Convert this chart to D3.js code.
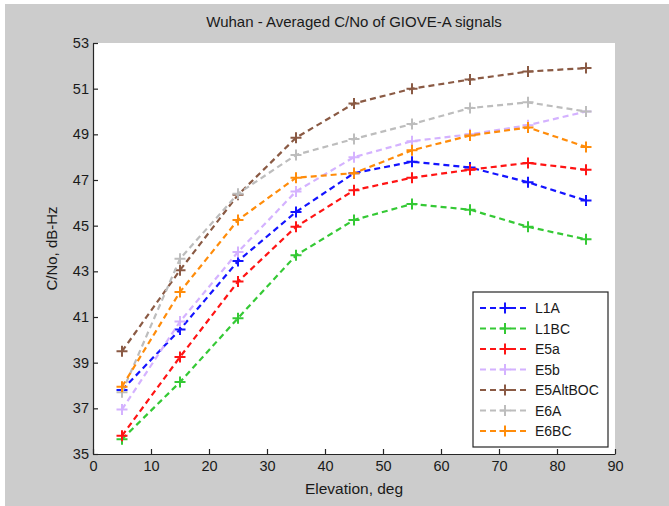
<!DOCTYPE html>
<html>
<head>
<meta charset="utf-8">
<script src="https://cdn.jsdelivr.net/npm/d3@7"></script>
<style>
  html, body { margin: 0; padding: 0; background: #ffffff; }
  svg { display: block; }
  text { font-family: "Liberation Sans", Arial, sans-serif; fill: #1a1a1a; }
</style>
</head>
<body>
<svg id="chart" width="669" height="506"></svg>
<script>
// ---- Data ----
const elevations = [5, 15, 25, 35, 45, 55, 65, 75, 85];
const seriesNames = ["L1A", "L1BC", "E5a", "E5b", "E5AltBOC", "E6A", "E6BC"];
const L1A      = [37.8, 40.45, 43.45, 45.6, 47.3, 47.8, 47.55, 46.9, 46.1];
const L1BC     = [35.65, 38.15, 40.95, 43.7, 45.25, 45.95, 45.7, 44.95, 44.4];
const E5a      = [35.8, 39.25, 42.55, 44.95, 46.55, 47.1, 47.45, 47.75, 47.45];
const E5b      = [36.95, 40.8, 43.85, 46.5, 48.0, 48.7, 49.0, 49.4, 50.0];
const E5AltBOC = [39.5, 43.05, 46.35, 48.85, 50.35, 51.0, 51.4, 51.75, 51.9];
const E6A      = [37.7, 43.55, 46.4, 48.1, 48.8, 49.45, 50.15, 50.4, 50.0];
const E6BC     = [37.95, 42.1, 45.25, 47.1, 47.3, 48.3, 48.95, 49.3, 48.45];
const seriesValues = [L1A, L1BC, E5a, E5b, E5AltBOC, E6A, E6BC];
const seriesColors = ["#1414ff", "#35c935", "#ff1414", "#d4b2ff", "#8a5a44", "#bdbdbd", "#ff8c0a"];
const xTicks = [0, 10, 20, 30, 40, 50, 60, 70, 80, 90];
const yTicks = [35, 37, 39, 41, 43, 45, 47, 49, 51, 53];
const titleText = "Wuhan - Averaged C/No of GIOVE-A signals";
const xLabel = "Elevation, deg";
const yLabel = "C/No, dB-Hz";

// ---- Layout ----
const W = 669, H = 506;
const plot = { left: 93, right: 615, top: 43, bottom: 454 };

const svg = d3.select("#chart");

// figure background (white strip top/left like the reference)
svg.append("rect").attr("x", 0).attr("y", 0).attr("width", W).attr("height", H).attr("fill", "#ffffff");
svg.append("rect").attr("x", 5).attr("y", 4).attr("width", W - 5).attr("height", H - 4).attr("fill", "#cccccc");

// plot background
svg.append("rect")
  .attr("x", plot.left).attr("y", plot.top)
  .attr("width", plot.right - plot.left).attr("height", plot.bottom - plot.top)
  .attr("fill", "#ffffff");

const x = d3.scaleLinear().domain([0, 90]).range([plot.left, plot.right]);
const y = d3.scaleLinear().domain([35, 53]).range([plot.bottom, plot.top]);

// axes (ticks inward)
const xAxis = d3.axisBottom(x).tickValues(xTicks).tickSizeInner(-5).tickSizeOuter(0).tickPadding(10);
const yAxis = d3.axisLeft(y).tickValues(yTicks).tickSizeInner(-5).tickSizeOuter(0).tickPadding(10);

const gx = svg.append("g").attr("transform", `translate(0,${plot.bottom})`).call(xAxis);
const gy = svg.append("g").attr("transform", `translate(${plot.left},0)`).call(yAxis);
[gx, gy].forEach(g => {
  g.select(".domain").attr("stroke", "#262626").attr("stroke-width", 1.2);
  g.selectAll(".tick line").attr("stroke", "#262626").attr("stroke-width", 1.2);
  g.selectAll(".tick text")
    .attr("font-family", "'Liberation Sans', Arial, sans-serif")
    .attr("font-size", 14.5).attr("fill", "#1a1a1a");
});
gx.selectAll(".tick text").attr("dy", "0.71em").attr("y", 7);
gy.selectAll(".tick text").attr("x", -4);

// lines
const lineGen = d3.line().x((d, i) => x(elevations[i])).y(d => y(d));
const plusPath = (cx, cy, r) => `M${cx - r},${cy}H${cx + r}M${cx},${cy - r}V${cy + r}`;

const seriesData = seriesNames.map((n, i) => ({ name: n, values: seriesValues[i], color: seriesColors[i] }));

const gLines = svg.append("g");
seriesData.forEach(s => {
  gLines.append("path")
    .attr("d", lineGen(s.values))
    .attr("fill", "none")
    .attr("stroke", s.color)
    .attr("stroke-width", 2.2)
    .attr("stroke-dasharray", "6,4");
  gLines.selectAll(null).data(s.values).enter().append("path")
    .attr("d", (d, i) => plusPath(x(elevations[i]), y(d), 5.5))
    .attr("stroke", s.color)
    .attr("stroke-width", 2)
    .attr("fill", "none");
});

// title and labels
svg.append("text").attr("x", (plot.left + plot.right) / 2).attr("y", 27)
  .attr("text-anchor", "middle").attr("font-size", 15).text(titleText);
svg.append("text").attr("x", (plot.left + plot.right) / 2).attr("y", 494)
  .attr("text-anchor", "middle").attr("font-size", 15.5).text(xLabel);
svg.append("text")
  .attr("transform", `translate(57,${(plot.top + plot.bottom) / 2}) rotate(-90)`)
  .attr("text-anchor", "middle").attr("font-size", 15).text(yLabel);

// legend
const lg = { x: 473, y: 292, w: 135, h: 155 };
svg.append("rect").attr("x", lg.x).attr("y", lg.y).attr("width", lg.w).attr("height", lg.h)
  .attr("fill", "#ffffff").attr("stroke", "#262626").attr("stroke-width", 1.2);
const legendItems = svg.append("g").selectAll("g").data(seriesData).enter().append("g")
  .attr("transform", (d, i) => `translate(${lg.x},${lg.y + 16 + i * 20.5})`);
legendItems.append("line").attr("x1", 7).attr("x2", 54).attr("y1", 0).attr("y2", 0)
  .attr("stroke", d => d.color).attr("stroke-width", 2.2).attr("stroke-dasharray", "6,4");
legendItems.append("path").attr("d", plusPath(32, 0, 5.5))
  .attr("stroke", d => d.color).attr("stroke-width", 2);
legendItems.append("text").attr("x", 62).attr("y", 5).attr("font-size", 14).text(d => d.name);
</script>
</body>
</html>
